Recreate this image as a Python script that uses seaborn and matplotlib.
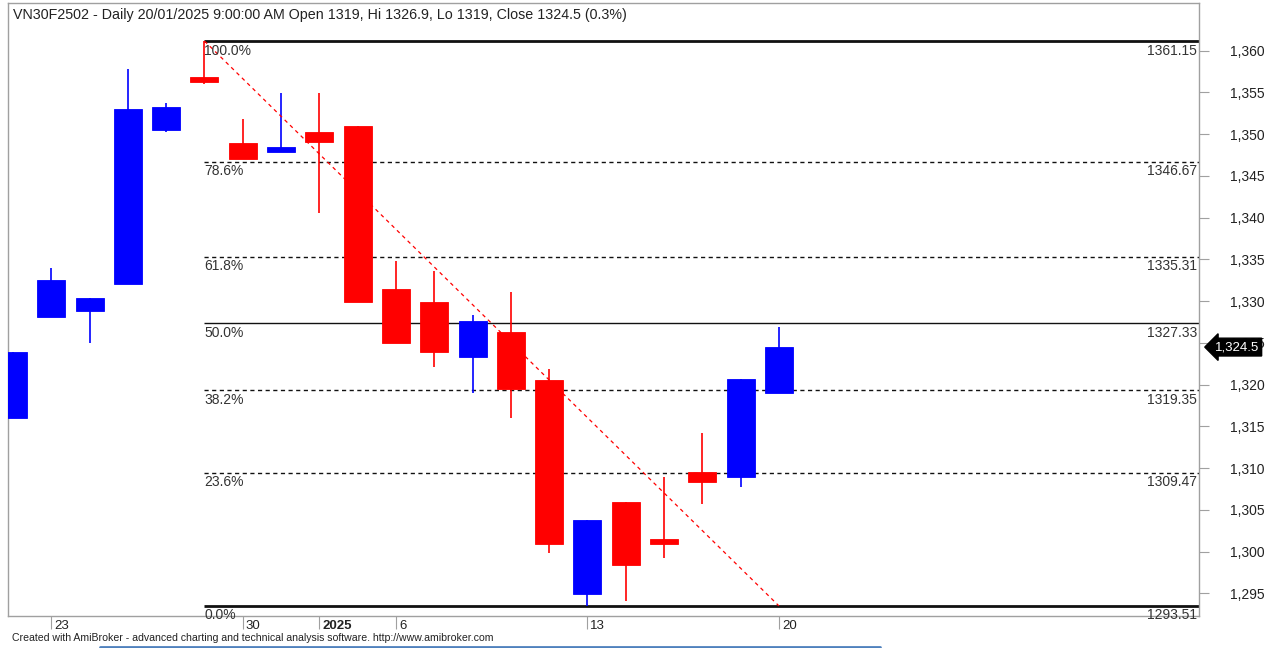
# vn30f2502_fib_chart.py
import numpy as np
import pandas as pd
import matplotlib
matplotlib.use('Agg')
import matplotlib.pyplot as plt
import matplotlib.lines as mlines
import matplotlib.transforms as mtrans
from matplotlib.ticker import FuncFormatter
import seaborn as sns

# daily bars, 20/12/2024 .. 20/01/2025
dates = ['20/12', '23/12', '24/12', '25/12', '26/12', '27/12', '30/12', '31/12',
         '02/01', '03/01', '06/01', '07/01', '08/01', '09/01', '10/01', '13/01',
         '14/01', '15/01', '16/01', '17/01', '20/01']
opens = [1316.0, 1328.1, 1328.8, 1332.0, 1350.5, 1356.8, 1348.9, 1347.8,
         1350.2, 1351.0, 1331.4, 1329.9, 1323.3, 1326.3, 1320.5, 1294.9,
         1306.0, 1301.5, 1309.6, 1309.0, 1319.0]
highs = [1323.9, 1334.0, 1330.4, 1357.8, 1353.7, 1361.15, 1351.8, 1354.9,
         1354.9, 1351.0, 1334.8, 1333.6, 1328.4, 1331.1, 1321.9, 1303.8,
         1306.0, 1308.9, 1314.2, 1320.7, 1326.9]
lows = [1316.0, 1328.1, 1325.0, 1332.0, 1350.2, 1356.0, 1347.0, 1347.8,
        1340.5, 1329.9, 1325.0, 1322.1, 1319.0, 1316.0, 1299.9, 1293.51,
        1294.1, 1299.2, 1305.7, 1307.7, 1319.0]
closes = [1323.9, 1332.5, 1330.4, 1353.0, 1353.2, 1356.2, 1347.0, 1348.4,
          1349.0, 1329.9, 1325.0, 1323.9, 1327.6, 1319.5, 1300.9, 1303.8,
          1298.4, 1300.9, 1308.3, 1320.7, 1324.5]

# fibonacci retracement levels
fib_pcts = ['100.0%', '78.6%', '61.8%', '50.0%', '38.2%', '23.6%', '0.0%']
fib_values = [1361.15, 1346.67, 1335.31, 1327.33, 1319.35, 1309.47, 1293.51]

# x axis labels (bar index -> text)
xtick_bars = [1, 6, 8, 10, 15, 20]
xtick_text = ['23', '30', '2025', '6', '13', '20']

title_text = ("VN30F2502 - Daily 20/01/2025 9:00:00 AM Open 1319, Hi 1326.9, "
              "Lo 1319, Close 1324.5 (0.3%)")
footer_text = ("Created with AmiBroker - advanced charting and technical analysis "
               "software. http://www.amibroker.com")


def main():
    sns.set_theme(style='white')
    plt.rcParams['font.family'] = ['Liberation Sans', 'DejaVu Sans']

    df = pd.DataFrame({'date': dates, 'open': opens, 'high': highs,
                       'low': lows, 'close': closes})
    df['bar'] = np.arange(len(df))
    df['color'] = np.where(df['close'] >= df['open'], '#0000ff', '#ff0000')

    fig = plt.figure(figsize=(12.79, 6.48), dpi=100)
    ax = fig.add_axes([8 / 1279, 32 / 648, 1191 / 1279, 613 / 648])

    x_left, x_right = -0.13, 30.97
    ax.set_xlim(x_left, x_right)
    ax.set_ylim(1292.3, 1365.7)

    # candles
    ax.vlines(df['bar'], df['low'], df['high'], colors=df['color'], lw=1.2, zorder=3)
    body_lo = df[['open', 'close']].min(axis=1)
    body_h = (df['close'] - df['open']).abs().clip(lower=0.35)
    ax.bar(df['bar'], body_h, bottom=body_lo, width=0.73, color=df['color'],
           edgecolor=df['color'], linewidth=0.6, zorder=4)

    # fib levels
    start = int(df['high'].idxmax())
    for pct, val in zip(fib_pcts, fib_values):
        if pct in ('100.0%', '0.0%'):
            ls, lw = '-', 2.0
        elif pct == '50.0%':
            ls, lw = '-', 1.0
        else:
            ls, lw = (0, (3, 2.5)), 1.0
        ax.hlines(val, start, x_right, colors='#111111', linestyles=ls, lw=lw, zorder=2)
        ax.text(start, val - 0.3, pct, ha='left', va='top', fontsize=10,
                color='#333333', zorder=5)
        ax.text(x_right - 0.05, val - 0.3, f'{val:.2f}', ha='right', va='top',
                fontsize=10, color='#333333', zorder=5)

    # trend line from swing high to swing low
    end = int(df['low'].idxmin()) + 5
    trend = pd.DataFrame({'x': [start, end],
                          'y': [df['high'].max(), df['low'].min()]})
    sns.lineplot(data=trend, x='x', y='y', ax=ax, color='#ff0000', lw=0.9,
                 linestyle=(0, (3, 3)), zorder=3)
    ax.set_xlabel('')
    ax.set_ylabel('')

    # axes styling
    for side in ['left', 'right', 'top', 'bottom']:
        ax.spines[side].set_color('#a0a0a0')
        ax.spines[side].set_linewidth(1.0)
    ax.yaxis.tick_right()
    ax.set_yticks(np.arange(1295, 1361, 5))
    ax.yaxis.set_major_formatter(FuncFormatter(lambda v, p: f'{v:,.0f}'))
    ax.tick_params(axis='y', right=True, left=False, direction='out', length=7,
                   width=0.8, color='#a0a0a0', labelsize=10, labelcolor='#222222', pad=15)

    ax.set_xticks(xtick_bars)
    ax.set_xticklabels(xtick_text, ha='left')
    ax.tick_params(axis='x', bottom=True, direction='out', length=9, width=0.8,
                   color='#a0a0a0', labelsize=9.5, labelcolor='#222222', pad=-6)
    # labels sit a few pixels right of their tick
    shift = mtrans.ScaledTranslation(3 / 100, 0, fig.dpi_scale_trans)
    for lbl in ax.get_xticklabels():
        lbl.set_transform(lbl.get_transform() + shift)
        if lbl.get_text() == '2025':
            lbl.set_fontweight('bold')

    # current price tag
    last_close = df['close'].iloc[-1]
    ax.text(1.013, last_close, f'{last_close:,.1f}', transform=ax.get_yaxis_transform(),
            ha='left', va='center', fontsize=9.5, color='white', clip_on=False, zorder=10,
            bbox=dict(boxstyle='larrow,pad=0.22', fc='black', ec='black'))

    # title and footer
    ax.text(0.004, 0.992, title_text, transform=ax.transAxes, ha='left', va='top',
            fontsize=10.3, color='#222222')
    fig.text(12 / 1279, 1 - 638 / 648, footer_text, ha='left', va='center',
             fontsize=7.6, color='#222222')
    fig.add_artist(mlines.Line2D([100 / 1279, 880 / 1279], [1 / 648, 1 / 648],
                                 color='#4f81bd', lw=2, transform=fig.transFigure))

    fig.savefig('out.png', dpi=100)


if __name__ == '__main__':
    main()
